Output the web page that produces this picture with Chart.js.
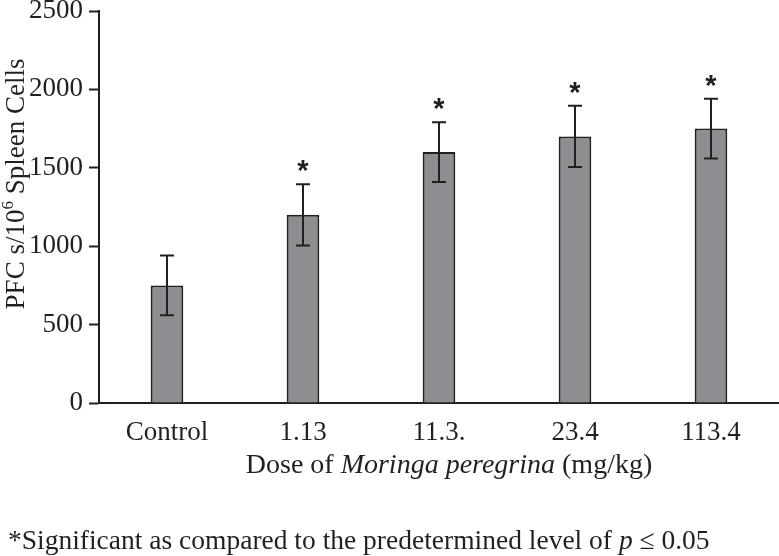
<!DOCTYPE html>
<html>
<head>
<meta charset="utf-8">
<script src="https://cdn.jsdelivr.net/npm/chart.js@4.4.1/dist/chart.umd.min.js"></script>
<style>
  html, body { margin: 0; padding: 0; background: #fff; }
  #wrap { width: 779px; height: 556px; }
</style>
</head>
<body>
<div id="wrap"><canvas id="chart"></canvas></div>
<script>
// values
const doses = ['Control', '1.13', '11.3.', '23.4', '113.4'];
const pfcMeans = [750, 1200, 1600, 1700, 1750];
const pfcErrors = [190, 195, 190, 195, 190];
const significant = [false, true, true, true, true];

const INK = '#231f20';
const SERIF = '"Liberation Serif", "Times New Roman", serif';
const FS = 27;

// error bars, asterisks and the free text around the plot
const annotations = {
    id: 'annotations',
    afterDatasetsDraw(chart) {
        const ctx = chart.ctx
        const x = chart.scales.x
        const y = chart.scales.y
        ctx.save()
        ctx.strokeStyle = INK
        ctx.lineWidth = 2
        pfcMeans.forEach((v, i) => {
            const cx = x.getPixelForValue(i)
            const top = y.getPixelForValue(v + pfcErrors[i])
            const bot = y.getPixelForValue(v - pfcErrors[i])
            ctx.beginPath()
            ctx.moveTo(cx, top); ctx.lineTo(cx, bot)
            ctx.moveTo(cx - 7, top); ctx.lineTo(cx + 7, top)
            ctx.moveTo(cx - 7, bot); ctx.lineTo(cx + 7, bot)
            ctx.stroke()
            if (significant[i]) {
                ctx.fillStyle = INK
                ctx.font = 'bold 29px "Liberation Sans", Arial, sans-serif'
                ctx.textAlign = 'center'
                ctx.textBaseline = 'alphabetic'
                ctx.fillText('*', cx, top - 4)
            }
        })
        ctx.restore()
    },
    afterDraw(chart) {
        const ctx = chart.ctx
        const area = chart.chartArea
        ctx.save()
        ctx.fillStyle = INK
        ctx.textBaseline = 'middle'
        ctx.textAlign = 'left'

        // x axis title with italic species name
        const parts = [
            ['Dose of ', '28px ' + SERIF],
            ['Moringa peregrina', 'italic 28px ' + SERIF],
            [' (mg/kg)', '28px ' + SERIF]
        ]
        let total = 0
        parts.forEach(p => { ctx.font = p[1]; total += ctx.measureText(p[0]).width })
        let px = (area.left + area.right) / 2 + 10 - total / 2
        parts.forEach(p => {
            ctx.font = p[1]
            ctx.fillText(p[0], px, 466)
            px += ctx.measureText(p[0]).width
        })

        // y axis title, rotated, with superscript 6
        ctx.save()
        ctx.translate(17, 184)
        ctx.rotate(-Math.PI / 2)
        const yParts = [
            ['PFC s/10', FS + 'px ' + SERIF, 0],
            ['6', '17px ' + SERIF, -8],
            [' Spleen Cells', FS + 'px ' + SERIF, 0]
        ]
        total = 0
        yParts.forEach(p => { ctx.font = p[1]; total += ctx.measureText(p[0]).width })
        px = -total / 2
        yParts.forEach(p => {
            ctx.font = p[1]
            ctx.fillText(p[0], px, p[2])
            px += ctx.measureText(p[0]).width
        })
        ctx.restore()

        // footnote
        const note = [
            ['*Significant as compared to the predetermined level of ', '27.5px ' + SERIF],
            ['p', 'italic 27.5px ' + SERIF],
            [' \u2264 0.05', '27.5px ' + SERIF]
        ]
        px = 8
        note.forEach(p => {
            ctx.font = p[1]
            ctx.fillText(p[0], px, 542)
            px += ctx.measureText(p[0]).width
        })
        ctx.restore()
    }
}

new Chart(document.getElementById('chart'), {
    type: 'bar',
    data: {
        labels: doses,
        datasets: [{
            data: pfcMeans,
            backgroundColor: '#8e8e92',
            borderColor: INK,
            borderWidth: 2,
            borderSkipped: 'start',
            barPercentage: 0.24,
            categoryPercentage: 1
        }]
    },
    options: {
        responsive: true,
        maintainAspectRatio: false,
        animation: false,
        plugins: {
            legend: { display: false },
            tooltip: { enabled: false }
        },
        scales: {
            x: {
                afterFit(scale) { scale.height = 153 },
                grid: { display: false },
                border: { display: true, color: INK, width: 2 },
                ticks: {
                    color: INK,
                    padding: 6,
                    font: { family: SERIF, size: FS }
                }
            },
            y: {
                min: 0,
                max: 2500,
                afterFit(scale) {
                    scale.width = 99
                    scale.paddingTop = 11
                    scale.paddingBottom = 0
                },
                grid: {
                    drawOnChartArea: false,
                    drawTicks: true,
                    tickLength: 10,
                    tickWidth: 2,
                    color: INK
                },
                border: { display: true, color: INK, width: 2 },
                ticks: {
                    stepSize: 500,
                    color: INK,
                    padding: 6,
                    callback: v => String(v),
                    font: { family: SERIF, size: FS }
                }
            }
        }
    },
    plugins: [annotations]
})
</script>
</body>
</html>
